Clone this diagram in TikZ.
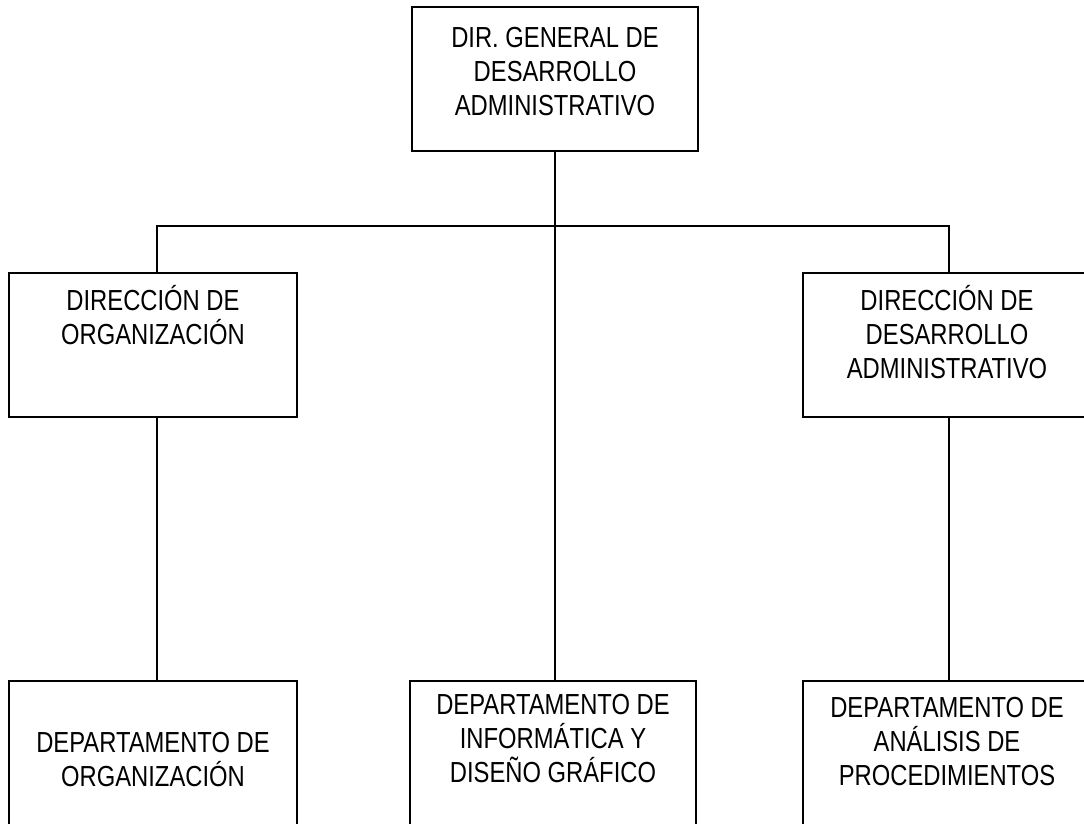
\documentclass[tikz,border=0pt]{standalone}
\usepackage{fontspec}
\usepackage{tikz}
\usetikzlibrary{positioning,calc}
\newfontfamily\orgfont{Liberation Sans}[FakeStretch=0.82]

\begin{document}
\begin{tikzpicture}[
    x=1pt, y=-1pt,
    box/.style={rectangle, draw, line width=1.5pt, minimum width=288pt, minimum height=144pt, inner sep=0pt},
    boxtext/.style={anchor=north, align=center, inner sep=0pt, font=\orgfont\fontsize{29}{34}\selectfont},
    conn/.style={line width=1.5pt}
  ]
  \useasboundingbox (0,0) rectangle (1084,823);

  % Level 1: general direction
  \node[box, minimum width=286pt, label={[boxtext, yshift=-21pt]north:DIR. GENERAL DE\\DESARROLLO\\ADMINISTRATIVO}] (dirgen) at (555,79) {};

  % Level 2: directions
  \node[box, label={[boxtext, yshift=-13pt]north:DIRECCIÓN DE\\ORGANIZACIÓN}] (dirorg) at (153,345) {};
  \node[box, label={[boxtext, yshift=-13pt]north:DIRECCIÓN DE\\DESARROLLO\\ADMINISTRATIVO}] (dirdes) at (947,345) {};

  % Level 3: departments
  \node[box, minimum height=158pt, label={[boxtext, yshift=-52pt]north:DEPARTAMENTO DE\\ORGANIZACIÓN}] (deporg) at (153,760) {};
  \node[box, minimum width=286pt, minimum height=158pt, label={[boxtext, yshift=-14pt]north:DEPARTAMENTO DE\\INFORMÁTICA Y\\DISEÑO GRÁFICO}] (depinf) at (553,760) {};
  \node[box, minimum height=158pt, label={[boxtext, yshift=-17pt]north:DEPARTAMENTO DE\\ANÁLISIS DE\\PROCEDIMIENTOS}] (depana) at (947,760) {};

  % Connectors
  \coordinate (bus) at (555,226);
  \draw[conn] (dirgen.south) -- (bus);
  \draw[conn] (bus) -| ([xshift=4pt]dirorg.north);
  \draw[conn] (bus) -| ([xshift=2pt]dirdes.north);
  \draw[conn] (bus) -- (bus |- depinf.north);
  \draw[conn] ([xshift=4pt]dirorg.south) -- ([xshift=4pt]deporg.north);
  \draw[conn] ([xshift=2pt]dirdes.south) -- ([xshift=2pt]depana.north);

\end{tikzpicture}
\end{document}
